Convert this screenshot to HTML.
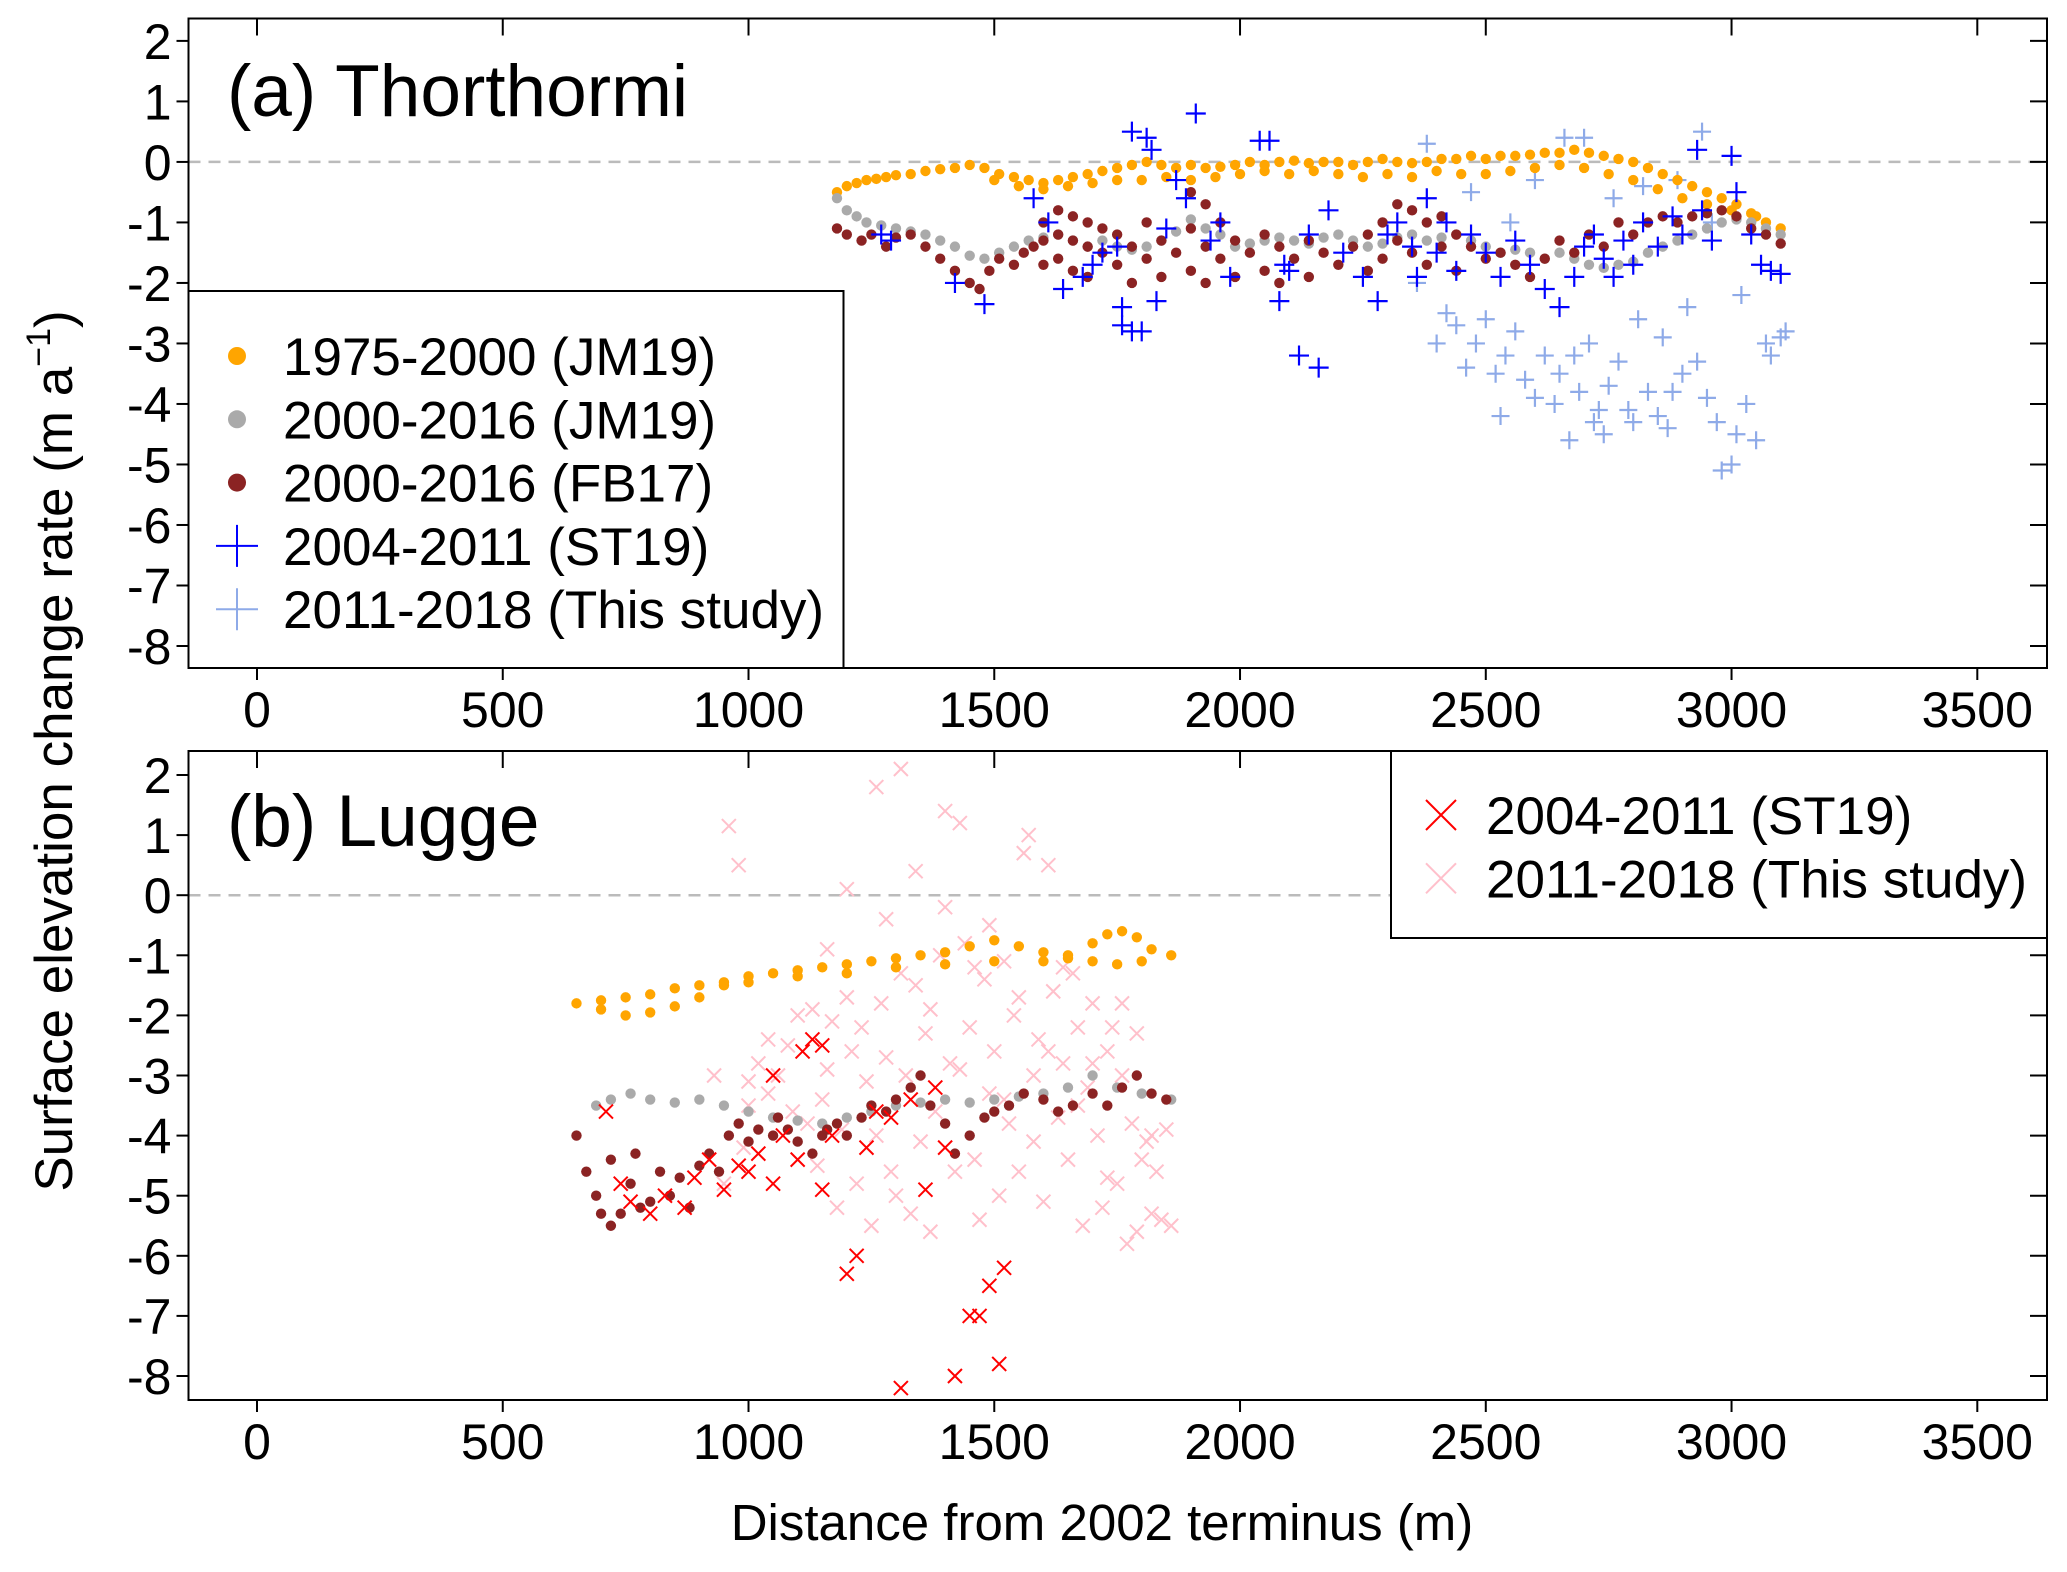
<!DOCTYPE html>
<html><head><meta charset="utf-8"><style>
html,body{margin:0;padding:0;background:#fff;}
svg{display:block;font-family:"Liberation Sans",Arial,sans-serif;}
</style></head><body>
<svg id="chart" width="2067" height="1572" viewBox="0 0 2067 1572" xmlns="http://www.w3.org/2000/svg"></svg>
<script>
const xTicks=[0,500,1000,1500,2000,2500,3000,3500];
const yTicks=[2,1,0,-1,-2,-3,-4,-5,-6,-7,-8];
// Panel a
const aOrangeX=[1180,1200,1220,1240,1260,1280,1300,1330,1360,1390,1420,1450,1480,1510,1540,1570,1600,1630,1660,1690,1720,1750,1780,1810,1840,1870,1900,1930,1960,1990,2020,2050,2080,2110,2140,2170,2200,2230,2260,2290,2320,2350,2380,2410,2440,2470,2500,2530,2560,2590,2620,2650,2680,2710,2740,2770,2800,2830,2860,2890,2920,2950,2980,3010,3040,3070,3100,1500,1550,1600,1650,1700,1750,1800,1850,1900,1950,2000,2050,2100,2150,2200,2250,2300,2350,2400,2450,2500,2550,2600,2650,2700,2750,2800,2850,2900,2950,3000,3050];
const aOrangeY=[-0.5,-0.4,-0.35,-0.3,-0.28,-0.25,-0.22,-0.2,-0.15,-0.12,-0.1,-0.05,-0.1,-0.2,-0.25,-0.3,-0.35,-0.3,-0.25,-0.2,-0.15,-0.1,-0.05,0,-0.05,-0.1,-0.05,-0.1,-0.08,-0.05,0,-0.05,0,0.02,-0.02,0,0,-0.05,0,0.05,0,-0.02,0,0.05,0.05,0.1,0.05,0.1,0.1,0.12,0.15,0.15,0.2,0.15,0.1,0.05,0,-0.1,-0.2,-0.3,-0.4,-0.5,-0.6,-0.7,-0.85,-1.0,-1.1,-0.3,-0.4,-0.45,-0.4,-0.35,-0.3,-0.3,-0.25,-0.3,-0.25,-0.2,-0.15,-0.2,-0.15,-0.2,-0.25,-0.2,-0.25,-0.15,-0.2,-0.2,-0.15,-0.1,-0.05,-0.1,-0.2,-0.3,-0.45,-0.6,-0.7,-0.8,-0.9];
const aGrayX=[1180,1200,1220,1240,1270,1300,1330,1360,1390,1420,1450,1480,1510,1540,1570,1600,1630,1660,1690,1720,1750,1780,1810,1840,1870,1900,1930,1960,1990,2020,2050,2080,2110,2140,2170,2200,2230,2260,2290,2320,2350,2380,2410,2440,2470,2500,2530,2560,2590,2620,2650,2680,2710,2740,2770,2800,2830,2860,2890,2920,2950,2980,3010,3040,3070,3100];
const aGrayY=[-0.6,-0.8,-0.9,-1.0,-1.05,-1.1,-1.15,-1.2,-1.3,-1.4,-1.55,-1.6,-1.5,-1.4,-1.3,-1.25,-1.2,-1.3,-1.4,-1.3,-1.4,-1.45,-1.4,-1.3,-1.15,-0.95,-1.1,-1.2,-1.4,-1.35,-1.3,-1.25,-1.3,-1.35,-1.25,-1.2,-1.3,-1.4,-1.35,-1.25,-1.2,-1.3,-1.25,-1.2,-1.3,-1.4,-1.5,-1.45,-1.5,-1.6,-1.5,-1.6,-1.7,-1.75,-1.7,-1.65,-1.5,-1.4,-1.3,-1.2,-1.1,-1.0,-0.95,-1.0,-1.1,-1.2];
const aRedX=[1180,1200,1230,1250,1280,1300,1330,1360,1390,1420,1450,1470,1490,1510,1540,1560,1580,1600,1600,1600,1630,1630,1630,1660,1660,1660,1690,1690,1690,1720,1720,1750,1750,1780,1780,1810,1810,1840,1840,1870,1900,1900,1900,1930,1930,1930,1960,1960,1990,1990,2020,2050,2050,2080,2080,2110,2140,2140,2170,2200,2230,2260,2260,2290,2290,2320,2320,2350,2350,2380,2380,2410,2410,2440,2440,2470,2500,2530,2560,2590,2620,2650,2680,2710,2740,2770,2800,2830,2860,2890,2920,2950,2980,3010,3040,3070,3100];
const aRedY=[-1.1,-1.2,-1.3,-1.2,-1.4,-1.25,-1.2,-1.4,-1.6,-1.8,-2.0,-2.1,-1.8,-1.6,-1.7,-1.5,-1.4,-1.0,-1.3,-1.7,-0.8,-1.2,-1.6,-0.9,-1.3,-1.8,-1.0,-1.4,-1.9,-1.1,-1.5,-1.2,-1.7,-1.4,-2.0,-1.0,-1.6,-1.3,-1.9,-1.5,-0.5,-1.1,-1.8,-0.7,-1.4,-2.0,-1.0,-1.6,-1.3,-1.9,-1.5,-1.2,-1.8,-1.4,-2.0,-1.6,-1.3,-1.9,-1.5,-1.7,-1.4,-1.2,-1.8,-1.0,-1.6,-0.7,-1.3,-0.8,-1.5,-1.0,-1.7,-0.9,-1.4,-1.2,-1.8,-1.4,-1.6,-1.5,-1.7,-1.9,-1.6,-1.3,-1.5,-1.2,-1.4,-1.0,-1.2,-1.0,-0.9,-1.0,-0.9,-0.85,-0.8,-0.9,-1.1,-1.2,-1.35];
const aBlueX=[1270,1290,1420,1480,1580,1610,1640,1680,1700,1720,1750,1760,1760,1780,1780,1800,1810,1820,1830,1850,1870,1890,1910,1940,1960,1980,2040,2060,2080,2090,2100,2120,2140,2160,2180,2210,2250,2280,2300,2320,2350,2360,2380,2400,2420,2440,2470,2500,2530,2560,2590,2620,2650,2680,2700,2720,2740,2760,2780,2800,2820,2850,2880,2900,2930,2940,2960,3000,3010,3040,3060,3080,3100];
const aBlueY=[-1.2,-1.3,-2.0,-2.35,-0.6,-1.0,-2.1,-1.9,-1.7,-1.5,-1.4,-2.4,-2.7,-2.8,0.5,-2.8,0.4,0.2,-2.3,-1.1,-0.3,-0.6,0.8,-1.3,-1.0,-1.9,0.35,0.35,-2.3,-1.7,-1.8,-3.2,-1.2,-3.4,-0.8,-1.5,-1.9,-2.3,-1.2,-1.0,-1.4,-1.9,-0.6,-1.5,-1.0,-1.8,-1.2,-1.5,-1.9,-1.3,-1.7,-2.1,-2.4,-1.9,-1.4,-1.2,-1.6,-1.9,-1.3,-1.7,-1.0,-1.4,-0.9,-1.2,0.2,-0.8,-1.3,0.1,-0.5,-1.2,-1.7,-1.8,-1.85];
const aLightX=[2360,2380,2400,2420,2440,2460,2480,2500,2520,2540,2560,2580,2600,2620,2640,2650,2660,2670,2690,2700,2710,2720,2740,2750,2770,2790,2800,2810,2830,2850,2860,2880,2900,2910,2930,2940,2950,2970,2980,3000,3010,3030,3050,3070,3080,3100,3110,2470,2550,2600,2760,2820,2890,2960,3020,2530,2680,2730,2870];
const aLightY=[-2.0,0.3,-3.0,-2.5,-2.7,-3.4,-3.0,-2.6,-3.5,-3.2,-2.8,-3.6,-3.9,-3.2,-4.0,-3.5,0.4,-4.6,-3.8,0.4,-3.0,-4.3,-4.5,-3.7,-3.3,-4.1,-4.3,-2.6,-3.8,-4.2,-2.9,-3.8,-3.5,-2.4,-3.3,0.5,-3.9,-4.3,-5.1,-5.0,-4.5,-4.0,-4.6,-3.0,-3.2,-2.9,-2.8,-0.5,-1.0,-0.3,-0.6,-0.4,-0.3,-1.0,-2.2,-4.2,-3.2,-4.1,-4.4];
// Panel b
const bOrangeX=[650,700,750,800,850,900,950,1000,1050,1100,1150,1200,1250,1300,1350,1400,1450,1500,1550,1600,1650,1700,1730,1760,1790,1820,1860,700,750,800,850,900,950,1000,1100,1200,1300,1400,1500,1600,1650,1700,1750,1800];
const bOrangeY=[-1.8,-1.75,-1.7,-1.65,-1.55,-1.5,-1.45,-1.35,-1.3,-1.25,-1.2,-1.15,-1.1,-1.05,-1.0,-0.95,-0.85,-0.75,-0.85,-0.95,-1.05,-0.8,-0.65,-0.6,-0.7,-0.9,-1.0,-1.9,-2.0,-1.95,-1.85,-1.7,-1.5,-1.45,-1.35,-1.3,-1.2,-1.15,-1.1,-1.1,-1.0,-1.1,-1.15,-1.1];
const bGrayX=[690,720,760,800,850,900,950,1000,1050,1100,1150,1200,1250,1300,1350,1400,1450,1500,1550,1600,1650,1700,1750,1800,1860];
const bGrayY=[-3.5,-3.4,-3.3,-3.4,-3.45,-3.4,-3.5,-3.6,-3.7,-3.75,-3.8,-3.7,-3.6,-3.5,-3.45,-3.4,-3.45,-3.4,-3.35,-3.3,-3.2,-3.0,-3.2,-3.3,-3.4];
const bRedX=[650,670,690,700,720,740,760,780,800,820,840,860,880,900,920,940,960,980,1000,1020,1050,1080,1100,1130,1150,1180,1200,1230,1250,1280,1300,1330,1350,1370,1400,1420,1450,1480,1500,1530,1560,1600,1630,1660,1700,1730,1760,1790,1820,1850,720,770,1060,1160];
const bRedY=[-4.0,-4.6,-5.0,-5.3,-5.5,-5.3,-4.8,-5.2,-5.1,-4.6,-5.0,-4.7,-5.2,-4.5,-4.3,-4.6,-4.0,-3.8,-4.1,-3.9,-4.0,-3.9,-4.1,-4.3,-4.0,-3.8,-4.0,-3.7,-3.5,-3.6,-3.4,-3.2,-3.0,-3.5,-3.8,-4.3,-4.0,-3.7,-3.6,-3.5,-3.3,-3.4,-3.6,-3.5,-3.3,-3.5,-3.2,-3.0,-3.3,-3.4,-4.4,-4.3,-3.7,-3.9];
const bXRedX=[710,740,760,800,830,870,890,920,950,980,1000,1020,1050,1070,1100,1110,1130,1150,1170,1200,1220,1240,1260,1290,1310,1330,1360,1380,1400,1420,1450,1470,1490,1510,1520,1150,1050];
const bXRedY=[-3.6,-4.8,-5.1,-5.3,-5.0,-5.2,-4.7,-4.4,-4.9,-4.5,-4.6,-4.3,-4.8,-4.0,-4.4,-2.6,-2.4,-4.9,-4.0,-6.3,-6.0,-4.2,-3.6,-3.7,-8.2,-3.4,-4.9,-3.2,-4.2,-8.0,-7.0,-7.0,-6.5,-7.8,-6.2,-2.5,-3.0];
const bPinkX=[930,950,960,980,990,1000,1020,1040,1060,1080,1100,1120,1140,1160,1180,1200,1210,1220,1240,1250,1260,1270,1280,1290,1300,1310,1320,1330,1340,1350,1360,1370,1380,1390,1400,1410,1420,1430,1440,1450,1460,1470,1480,1490,1500,1510,1520,1530,1540,1550,1560,1570,1580,1590,1600,1610,1620,1630,1640,1650,1660,1670,1680,1690,1700,1710,1720,1730,1740,1750,1760,1770,1780,1790,1800,1810,1820,1830,1840,1850,1860,1000,1040,1090,1130,1150,1170,1190,1230,1260,1280,1310,1340,1370,1400,1430,1460,1490,1520,1550,1580,1610,1640,1670,1700,1730,1760,1790,1820,1200,1160];
const bPinkY=[-3.0,-4.8,1.15,0.5,-4.2,-3.5,-2.8,-3.3,-3.0,-2.5,-2.0,-3.8,-4.5,-2.9,-5.2,-1.7,-2.6,-4.8,-3.1,-5.5,1.8,-1.8,-0.4,-4.6,-5.0,2.1,-3.0,-5.3,-1.5,-4.1,-2.3,-5.6,-3.6,-1.0,1.4,-2.8,-4.6,1.2,-0.8,-2.2,-4.4,-5.4,-1.4,-3.3,-2.6,-5.0,-1.1,-3.8,-2.0,-4.6,0.7,1.0,-3.0,-2.4,-5.1,0.5,-1.6,-3.7,-2.8,-4.4,-1.3,-2.2,-5.5,-3.2,-1.8,-4.0,-5.2,-2.6,-2.2,-4.8,-1.8,-5.8,-3.8,-5.6,-4.4,-4.1,-5.3,-4.6,-5.4,-3.9,-5.5,-3.1,-2.4,-3.6,-1.9,-3.4,-2.1,-3.9,-2.2,-4.0,-2.7,-1.3,0.4,-1.9,-0.2,-2.9,-1.2,-0.5,-3.4,-1.7,-4.1,-2.6,-1.2,-3.5,-2.8,-4.7,-3.0,-2.3,-4.0,0.1,-0.9];

const NS="http://www.w3.org/2000/svg";
const svg=document.getElementById('chart');
function el(tag,attrs,parent){const e=document.createElementNS(NS,tag);for(const k in attrs)e.setAttribute(k,attrs[k]);(parent||svg).appendChild(e);return e;}
const L=188.5,R=2047;
function sx(v){return 257+v*(1977.3-257)/3500;}
const panels=[{top:18.5,bot:668,y2:40.9,ym8:646,name:'panel-a'},{top:751,bot:1400,y2:775,ym8:1376,name:'panel-b'}];
function mkY(p){return v=>p.y2+(2-v)*(p.ym8-p.y2)/10;}

panels.forEach((p,pi)=>{
  const sy=mkY(p);
  const g=el('g',{});
  
  
  const z=el('line',{x1:L,x2:R,y1:sy(0),y2:sy(0),stroke:'#bbbbbb','stroke-width':2.5,'stroke-dasharray':'12,8'},g);
  
  
  yTicks.forEach(t=>{
    el('line',{x1:L-12,x2:L,y1:sy(t),y2:sy(t),stroke:'#000','stroke-width':2},g);
    el('line',{x1:R-17,x2:R,y1:sy(t),y2:sy(t),stroke:'#000','stroke-width':2},g);
    const tx=el('text',{x:L-17,y:sy(t)+18,'font-size':50,'text-anchor':'end',fill:'#000'},g);
    tx.textContent=String(t);
    
    
  });
  xTicks.forEach(t=>{
    el('line',{x1:sx(t),x2:sx(t),y1:p.bot,y2:p.bot+12,stroke:'#000','stroke-width':2},g);
    el('line',{x1:sx(t),x2:sx(t),y1:p.top,y2:p.top+17,stroke:'#000','stroke-width':2},g);
    const tx=el('text',{x:sx(t),y:p.bot+59,'font-size':50,'text-anchor':'middle',fill:'#000'},g);
    tx.textContent=String(t);
    
    
  });
  p.sy=sy;p.g=g;
});

function dots(p,xs,ys,color,name){
  const g=el('g',{},p.g);
  
  
  xs.forEach((x,i)=>{const c=el('circle',{cx:sx(x),cy:p.sy(ys[i]),r:5.2,fill:color},g);
    
    });
}
function plus(p,xs,ys,color,name,h){
  const g=el('g',{},p.g);
  
  
  xs.forEach((x,i)=>{const X=sx(x),Y=p.sy(ys[i]);
    const pa=el('path',{d:`M${X-h},${Y}H${X+h}M${X},${Y-h}V${Y+h}`,stroke:color,'stroke-width':2.2,fill:'none'},g);
    
    });
}
function cross(p,xs,ys,color,name,h){
  const g=el('g',{},p.g);
  
  
  xs.forEach((x,i)=>{const X=sx(x),Y=p.sy(ys[i]);
    const pa=el('path',{d:`M${X-h},${Y-h}L${X+h},${Y+h}M${X-h},${Y+h}L${X+h},${Y-h}`,stroke:color,'stroke-width':2,fill:'none'},g);
    
    });
}
const A=panels[0],B=panels[1];
plus(A,aLightX,aLightY,'#8eaae8','series-2011-2018-this-study',9);
dots(A,aOrangeX,aOrangeY,'#ffa500','series-1975-2000-jm19');
dots(A,aGrayX,aGrayY,'#aaaaaa','series-2000-2016-jm19');
dots(A,aRedX,aRedY,'#8b2323','series-2000-2016-fb17');
plus(A,aBlueX,aBlueY,'#0000ff','series-2004-2011-st19',10);
cross(B,bPinkX,bPinkY,'#ffc0cb','series-2011-2018-this-study',7);
dots(B,bOrangeX,bOrangeY,'#ffa500','series-1975-2000-jm19');
dots(B,bGrayX,bGrayY,'#aaaaaa','series-2000-2016-jm19');
dots(B,bRedX,bRedY,'#8b2323','series-2000-2016-fb17');
cross(B,bXRedX,bXRedY,'#ff0000','series-2004-2011-st19',7);

panels.forEach(p=>{el('rect',{x:L,y:p.top,width:R-L,height:p.bot-p.top,fill:'none',stroke:'#000','stroke-width':2},p.g);});

const lga=el('g',{});


el('rect',{x:L,y:291,width:655,height:377,fill:'#fff',stroke:'#000','stroke-width':2},lga);
const legA=[['dot','#ffa500','1975-2000 (JM19)'],['dot','#aaaaaa','2000-2016 (JM19)'],['dot','#8b2323','2000-2016 (FB17)'],['plus','#0000ff','2004-2011 (ST19)'],['plus','#8eaae8','2011-2018 (This study)']];
legA.forEach((e,i)=>{const y=356+i*63.3;const mx=237;
  if(e[0]==='dot')el('circle',{cx:mx,cy:y,r:9,fill:e[1]},lga);
  else el('path',{d:`M${mx-21},${y}H${mx+21}M${mx},${y-21}V${y+21}`,stroke:e[1],'stroke-width':2,fill:'none'},lga);
  const t=el('text',{x:283,y:y+19,'font-size':53,fill:'#000'},lga);t.textContent=e[2];
  
  });
const lgb=el('g',{});


el('rect',{x:1391,y:751,width:656,height:187,fill:'#fff',stroke:'#000','stroke-width':2},lgb);
const legB=[['#ff0000','2004-2011 (ST19)'],['#ffc0cb','2011-2018 (This study)']];
legB.forEach((e,i)=>{const y=815+i*63.3;const mx=1441;
  el('path',{d:`M${mx-15},${y-15}L${mx+15},${y+15}M${mx-15},${y+15}L${mx+15},${y-15}`,stroke:e[0],'stroke-width':2,fill:'none'},lgb);
  const t=el('text',{x:1486,y:y+19,'font-size':53,fill:'#000'},lgb);t.textContent=e[1];
  
  });

function txt(x,y,s,size,name,extra){const t=el('text',Object.assign({x:x,y:y,'font-size':size,fill:'#000'},extra||{}));t.textContent=s;
  
  return t;}
txt(227,116,'(a) Thorthormi',73,'panel-a-title');
txt(227,846,'(b) Lugge',73,'panel-b-title');
txt(1102,1540,'Distance from 2002 terminus (m)',51,'x-axis-title',{'text-anchor':'middle'});
const yt=el('text',{x:0,y:0,'font-size':53,'text-anchor':'middle',fill:'#000',transform:'translate(72,751) rotate(-90)'});


yt.innerHTML='Surface elevation change rate  (m a<tspan dy="-22" font-size="34">−1</tspan><tspan dy="22">)</tspan>';
</script>
</body></html>
